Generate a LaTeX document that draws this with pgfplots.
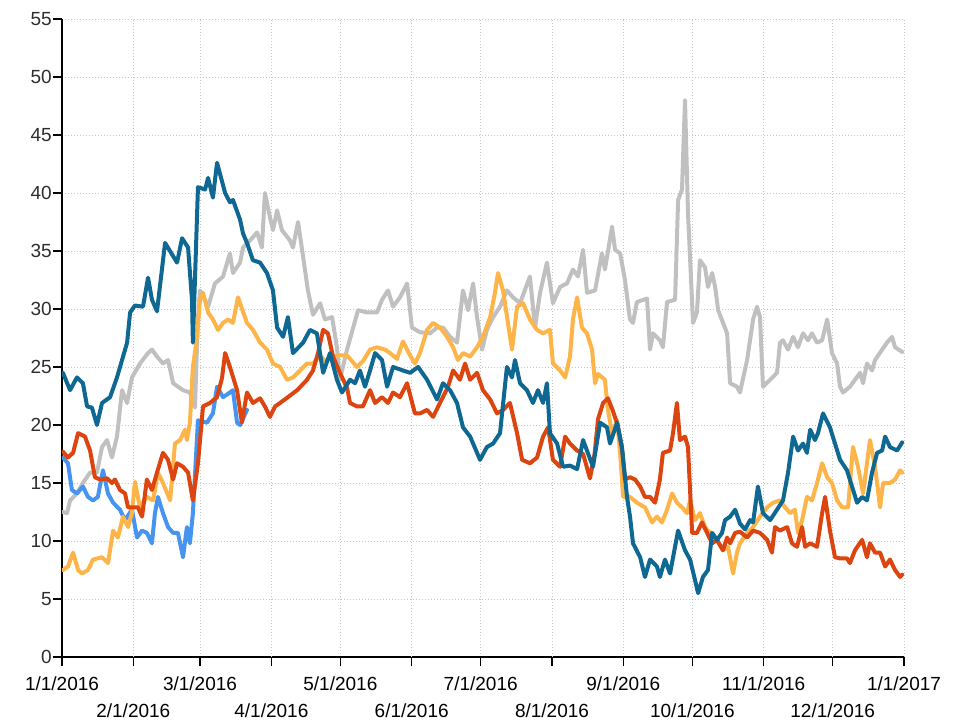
\documentclass[border=0pt]{standalone}
\usepackage{fontspec}
\setmainfont{Liberation Sans}
\usepackage{pgfplots}
\pgfplotsset{compat=1.18}
\definecolor{cdblue}{RGB}{14,104,146}
\definecolor{clblue}{RGB}{70,148,240}
\definecolor{cgray}{RGB}{192,192,192}
\definecolor{cyellow}{RGB}{253,180,72}
\definecolor{cred}{RGB}{220,68,16}
\definecolor{cgrid}{RGB}{200,200,200}
\definecolor{ctick}{RGB}{45,45,45}
\begin{document}
\begin{tikzpicture}
\path[use as bounding box] (-62pt,-65pt) rectangle (893pt,657pt);
\begin{axis}[
  scale only axis, width=842pt, height=638pt,
  xmin=0, xmax=366, ymin=0, ymax=55,
  axis x line*=bottom, axis y line*=left,
  axis line style={-, black, line width=1.3pt},
  tick align=outside, major tick length=9pt,
  tick style={black, line width=1.2pt},
  ytick={0,5,...,55},
  xtick={0,60,121,182,244,305,366},
  xticklabels={1/1/2016,3/1/2016,5/1/2016,7/1/2016,9/1/2016,11/1/2016,1/1/2017},
  extra x ticks={31,91,152,213,274,335},
  extra x tick labels={2/1/2016,4/1/2016,6/1/2016,8/1/2016,10/1/2016,12/1/2016},
  extra x tick style={grid=major, tick label style={yshift=-27pt}},
  grid=major,
  major grid style={cgrid, line width=0.9pt, dash pattern=on 1.2pt off 1.8pt},
  ticklabel style={font=\fontsize{19}{22}\selectfont},
  yticklabel style={ctick, inner sep=1pt},
  xticklabel style={black, inner sep=3pt, yshift=-8pt},
  /pgf/number format/assume math mode=true,
  every axis plot/.append style={no marks, line width=4pt, line join=round, line cap=round},
]
% gray
\addplot[cgray] coordinates {
(0.4,12.5)(2.2,12.4)(3.5,13.5)(6.5,14.1)(9.1,15.0)(12.2,15.9)(15.2,15.9)(17.4,18.1)(19.6,18.7)(21.7,17.2)
(23.9,19.0)(26.1,23.0)(28.3,21.9)(30.4,24.1)(33.9,25.3)(37.4,26.2)(39.1,26.5)(41.3,25.9)(43.9,25.3)(46.1,25.6)
(48.3,23.6)(52.6,23.0)(55.6,22.8)(57.8,21.5)(59.1,29.3)(60.0,31.6)(63.5,30.2)(66.5,32.2)(70.0,32.8)(73.0,34.8)
(74.3,33.1)(77.4,34.0)(78.7,35.3)(81.7,35.9)(84.8,36.6)(86.9,35.3)(88.2,40.0)(90.4,37.9)(91.7,36.8)(93.5,38.5)
(95.6,36.8)(99.1,35.9)(100.4,35.3)(102.6,37.5)(104.8,34.5)(106.9,31.6)(109.1,29.5)(112.2,30.5)(114.3,29.1)(117.4,29.3)
(119.5,26.7)(120.8,23.9)(123.9,26.5)(128.7,29.9)(132.6,29.7)(136.9,29.7)(139.1,30.8)(141.7,31.6)(143.9,30.2)(146.9,31.0)
(150.0,32.2)(152.1,28.4)(155.6,28.0)(160.0,27.9)(163.0,28.4)(165.6,28.4)(168.7,27.6)(171.7,27.1)(174.3,31.6)(176.5,29.9)
(178.7,32.2)(180.4,29.3)(182.6,26.5)(184.7,28.2)(187.4,29.3)(190.4,30.2)(193.4,31.6)(196.1,31.0)(199.1,30.5)(203.4,32.8)
(205.6,28.4)(207.8,31.4)(210.8,34.0)(213.4,30.5)(216.5,31.9)(219.5,32.2)(222.1,33.4)(224.3,32.8)(226.5,35.1)(228.2,31.4)
(231.7,31.6)(234.7,34.8)(236.0,33.4)(239.1,37.1)(240.4,35.1)(242.6,34.8)(244.7,32.5)(246.9,29.1)(248.2,28.8)(249.9,30.6)
(254.3,30.9)(255.6,26.5)(256.9,27.9)(259.9,27.3)(261.2,26.7)(263.0,30.6)(266.5,30.8)(267.8,39.4)(269.5,40.3)(270.8,48.0)
(272.1,38.3)(274.3,28.8)(276.0,29.7)(277.3,34.2)(279.5,33.6)(280.8,31.9)(282.6,33.1)(283.9,31.9)(285.2,29.9)(289.1,27.9)
(290.4,23.6)(293.4,23.3)(294.7,22.8)(297.8,25.6)(300.4,29.1)(302.1,30.2)(303.4,29.3)(304.7,23.3)(307.8,23.9)(310.8,24.5)
(312.1,27.1)(313.4,27.3)(315.6,26.5)(317.8,27.6)(319.9,26.7)(322.1,27.9)(324.3,27.3)(326.0,27.9)(328.2,27.1)(330.4,27.3)
(332.6,29.1)(334.7,26.2)(336.9,25.3)(338.2,23.3)(339.5,22.8)(342.5,23.3)(344.7,23.9)(346.9,24.5)(348.2,23.6)(349.9,25.3)
(352.1,24.7)(353.4,25.6)(356.5,26.5)(358.6,27.1)(360.8,27.6)(362.1,26.7)(365.2,26.3)
};
% light blue
\addplot[clblue] coordinates {
(0.4,17.2)(2.6,16.7)(4.3,14.4)(6.5,14.1)(9.1,14.7)(11.3,13.8)(13.5,13.5)(15.6,13.8)(17.8,16.1)(20.0,14.1)
(22.2,13.3)(25.2,12.7)(27.4,11.8)(30.4,12.7)(32.6,10.3)(34.8,10.9)(36.9,10.7)(39.1,9.8)(40.4,12.4)(41.7,13.8)
(43.9,12.4)(46.1,11.2)(48.3,10.7)(50.4,10.7)(52.6,8.6)(54.3,11.2)(55.6,9.8)(56.9,12.4)(59.1,20.4)(63.0,20.2)
(65.6,21.0)(67.4,23.3)(70.0,22.4)(73.0,22.8)(74.3,23.0)(76.1,20.2)(77.4,20.0)(80.4,21.3)
};
% yellow
\addplot[cyellow] coordinates {
(0.4,7.5)(2.6,7.8)(4.8,9.0)(7.0,7.5)(8.7,7.2)(11.3,7.5)(13.5,8.4)(17.4,8.6)(20.0,8.1)(22.2,10.9)
(24.3,10.3)(26.5,12.1)(28.7,11.2)(30.4,12.4)(31.7,15.1)(33.9,12.9)(36.9,13.8)(39.6,13.5)(41.7,15.9)(43.9,15.0)
(47.0,13.5)(49.1,18.4)(51.3,18.7)(53.5,19.6)(54.3,18.7)(55.6,20.2)(56.9,25.0)(58.7,27.6)(60.0,30.8)(61.3,31.4)
(63.5,29.7)(65.6,29.1)(67.8,28.2)(70.0,28.8)(72.2,29.1)(74.3,28.8)(76.5,31.0)(80.4,28.8)(83.0,28.2)(86.1,27.1)
(89.1,26.5)(91.7,25.3)(94.8,25.0)(97.8,23.9)(100.4,24.1)(103.5,24.7)(106.5,25.3)(109.1,25.3)(112.2,26.0)(114.3,25.5)
(117.4,25.9)(120.8,26.0)(123.9,26.0)(126.1,25.5)(128.2,25.0)(130.8,25.5)(133.9,26.5)(136.9,26.7)(140.4,26.5)(142.6,26.2)
(145.6,25.7)(148.2,27.2)(151.3,26.0)(153.4,25.3)(155.6,26.2)(158.7,28.2)(161.3,28.8)(164.3,28.4)(167.4,27.6)(170.0,26.7)
(172.1,25.6)(174.3,26.2)(177.4,25.9)(180.4,26.7)(183.0,27.6)(186.1,29.3)(188.2,31.4)(189.5,33.1)(191.7,31.6)(195.6,26.5)
(197.8,30.2)(200.4,30.5)(203.4,29.1)(206.5,28.2)(209.1,27.9)(212.1,28.2)(213.4,25.3)(216.5,24.7)(218.7,24.1)(220.8,25.9)
(222.1,29.1)(223.9,31.0)(226.0,28.4)(228.2,27.9)(230.4,26.5)(231.7,23.6)(233.0,24.4)(236.0,23.9)(237.3,21.3)(239.1,19.3)
(241.3,20.4)(242.6,17.6)(243.9,13.8)(246.9,13.8)(249.9,13.3)(253.4,12.9)(256.5,11.6)(258.6,12.1)(260.8,11.6)(263.0,12.7)
(265.2,14.1)(267.3,13.3)(269.5,12.9)(271.7,12.4)(273.0,13.5)(275.2,11.8)(277.3,12.4)(279.5,11.2)(281.7,10.7)(284.7,10.1)
(287.3,9.2)(289.5,9.5)(291.7,7.2)(293.4,9.0)(294.7,9.8)(297.8,10.7)(300.4,11.2)(303.4,12.1)(306.5,12.9)(309.1,13.3)
(312.1,13.5)(314.3,12.9)(316.5,12.4)(318.6,12.7)(319.9,10.7)(321.7,11.8)(323.8,13.8)(326.0,13.5)(328.2,15.0)(330.4,16.7)
(332.6,15.5)(334.7,15.0)(336.9,13.5)(339.1,12.9)(341.7,12.9)(343.8,18.1)(346.0,16.4)(348.2,14.1)(351.2,18.7)(353.4,16.4)
(355.6,12.9)(356.9,15.0)(359.9,15.0)(362.1,15.3)(364.3,16.1)(365.2,15.9)
};
% red
\addplot[cred] coordinates {
(0.4,17.7)(2.6,17.2)(4.8,17.6)(7.0,19.3)(10.0,19.0)(12.2,17.8)(14.3,15.5)(16.5,15.3)(19.6,15.4)(21.7,15.0)
(23.0,15.3)(25.2,14.4)(27.4,14.1)(28.7,12.9)(33.0,12.9)(34.8,12.1)(36.9,15.3)(39.1,14.4)(41.3,15.9)(43.9,17.6)
(46.1,17.0)(48.3,15.3)(50.0,16.7)(52.6,16.4)(54.8,15.9)(56.9,13.5)(59.1,16.7)(61.3,21.6)(64.3,21.9)(67.4,22.4)
(69.6,24.1)(70.9,26.2)(73.0,25.0)(76.1,23.0)(78.2,20.2)(80.4,22.8)(83.0,21.9)(86.1,22.3)(88.2,21.6)(90.4,20.7)
(92.6,21.6)(94.8,21.9)(98.2,22.4)(102.2,23.0)(106.5,23.9)(109.1,24.7)(111.3,26.2)(113.5,28.2)(115.6,27.9)(117.8,25.9)
(120.8,24.5)(123.9,23.2)(125.2,21.9)(128.2,21.6)(130.8,21.6)(133.9,23.0)(136.1,21.9)(139.1,22.4)(141.7,21.9)(143.9,22.8)
(146.9,22.4)(150.0,23.6)(153.4,21.0)(155.6,21.0)(158.7,21.3)(161.3,20.7)(164.3,21.9)(167.8,23.3)(170.0,24.7)(173.0,23.9)
(175.2,25.3)(177.4,23.9)(180.4,24.5)(183.0,23.0)(186.1,22.2)(189.1,21.0)(191.7,21.3)(194.7,21.9)(197.8,19.3)(200.0,17.0)
(203.4,16.7)(206.5,17.2)(209.1,19.0)(211.3,19.8)(213.4,17.0)(216.5,16.4)(218.7,19.0)(220.8,18.4)(223.9,17.8)(226.5,17.5)
(229.5,15.4)(231.5,17.5)(233.0,20.5)(235.2,21.9)(237.3,22.3)(239.5,21.2)(241.5,20.0)(243.4,18.0)(244.7,15.3)(246.9,15.5)
(249.1,15.3)(251.3,14.7)(253.4,13.8)(255.6,13.8)(257.8,13.3)(259.9,15.3)(261.2,17.6)(264.3,17.8)(265.6,19.3)(267.3,21.9)
(268.6,18.7)(270.8,19.0)(272.1,18.1)(273.9,10.7)(276.0,10.7)(278.2,11.6)(280.4,10.7)(282.6,9.8)(284.7,10.1)(287.3,9.2)
(289.1,10.3)(290.4,9.8)(292.6,10.7)(294.7,10.8)(297.8,10.3)(300.4,10.9)(303.4,10.7)(306.5,10.1)(308.6,9.0)(309.9,11.2)
(312.1,10.9)(315.2,11.2)(317.3,9.8)(319.5,9.5)(321.7,11.2)(323.0,9.5)(325.2,9.8)(328.2,9.5)(330.4,12.4)(331.7,13.8)
(333.8,10.9)(336.0,8.6)(338.2,8.5)(341.2,8.5)(342.5,8.1)(344.7,9.2)(347.8,10.1)(349.9,8.6)(351.2,9.8)(353.4,9.0)
(355.6,9.0)(357.8,7.8)(359.9,8.4)(362.1,7.5)(364.3,6.9)(365.2,7.1)
};
% dark blue
\addplot[cdblue] coordinates {
(0.4,24.5)(3.5,23.0)(6.5,24.1)(9.1,23.6)(10.9,21.6)(13.0,21.5)(15.2,20.0)(17.4,21.9)(20.9,22.4)(23.9,24.1)
(28.3,27.1)(29.6,29.7)(31.7,30.3)(35.2,30.2)(37.4,32.7)(39.1,30.8)(41.3,29.8)(44.8,35.7)(50.0,34.0)(52.2,36.1)
(54.8,35.3)(56.5,30.8)(56.9,27.1)(59.1,40.5)(62.2,40.3)(63.5,41.3)(65.6,39.6)(67.4,42.6)(70.9,40.0)(73.0,39.2)
(74.3,39.4)(77.4,37.7)(78.7,36.5)(80.4,35.7)(83.0,34.2)(86.1,34.0)(89.1,33.1)(91.7,31.6)(93.5,28.4)(96.1,27.6)
(98.2,29.3)(100.4,26.2)(104.8,27.1)(107.8,28.2)(110.8,27.9)(113.5,24.5)(116.5,26.2)(119.5,23.9)(121.7,22.8)(125.2,23.9)
(127.4,23.6)(129.5,24.7)(131.7,23.3)(133.9,24.7)(136.1,26.2)(139.1,25.6)(141.3,23.3)(143.9,25.0)(148.2,24.7)(151.3,24.5)
(154.8,25.0)(158.7,23.9)(163.0,22.2)(165.6,23.6)(168.7,23.0)(171.7,21.9)(174.3,19.8)(177.4,19.0)(181.7,17.0)(184.7,18.1)
(187.4,18.4)(190.4,19.3)(193.4,25.0)(195.6,24.1)(196.9,25.6)(199.1,23.6)(202.1,23.0)(204.7,21.9)(206.9,23.0)(209.1,21.9)
(210.8,23.6)(212.1,19.3)(215.2,18.4)(217.8,16.4)(220.8,16.5)(223.9,16.2)(226.5,18.7)(230.8,16.4)(233.9,20.2)(236.9,19.8)
(238.2,18.4)(241.3,20.2)(243.4,18.1)(245.6,13.8)(246.9,12.1)(248.2,9.8)(251.3,8.6)(253.4,6.9)(255.6,8.4)(258.6,7.8)
(259.9,6.9)(262.1,8.4)(264.3,7.2)(267.8,10.9)(270.8,9.2)(273.0,8.4)(275.2,6.6)(276.5,5.5)(278.6,6.9)(280.8,7.5)
(282.6,10.7)(284.7,10.1)(286.9,10.7)(288.2,11.8)(290.4,12.1)(292.6,12.7)(294.7,11.5)(296.9,11.0)(299.1,11.8)(300.4,11.6)
(302.5,14.7)(304.7,12.4)(307.8,11.8)(310.8,12.7)(313.4,13.5)(315.6,15.9)(317.8,19.0)(319.9,17.8)(322.1,18.4)(323.8,17.6)
(325.2,19.6)(327.3,18.7)(328.6,19.3)(330.8,21.0)(333.8,19.8)(336.0,18.4)(338.2,17.0)(341.2,16.1)(343.4,14.7)(345.6,13.3)
(347.8,13.8)(349.9,13.5)(352.1,15.9)(354.3,17.6)(356.5,17.8)(357.8,19.0)(359.9,18.1)(363.0,17.8)(365.2,18.5)
};
\end{axis}
\end{tikzpicture}
\end{document}
